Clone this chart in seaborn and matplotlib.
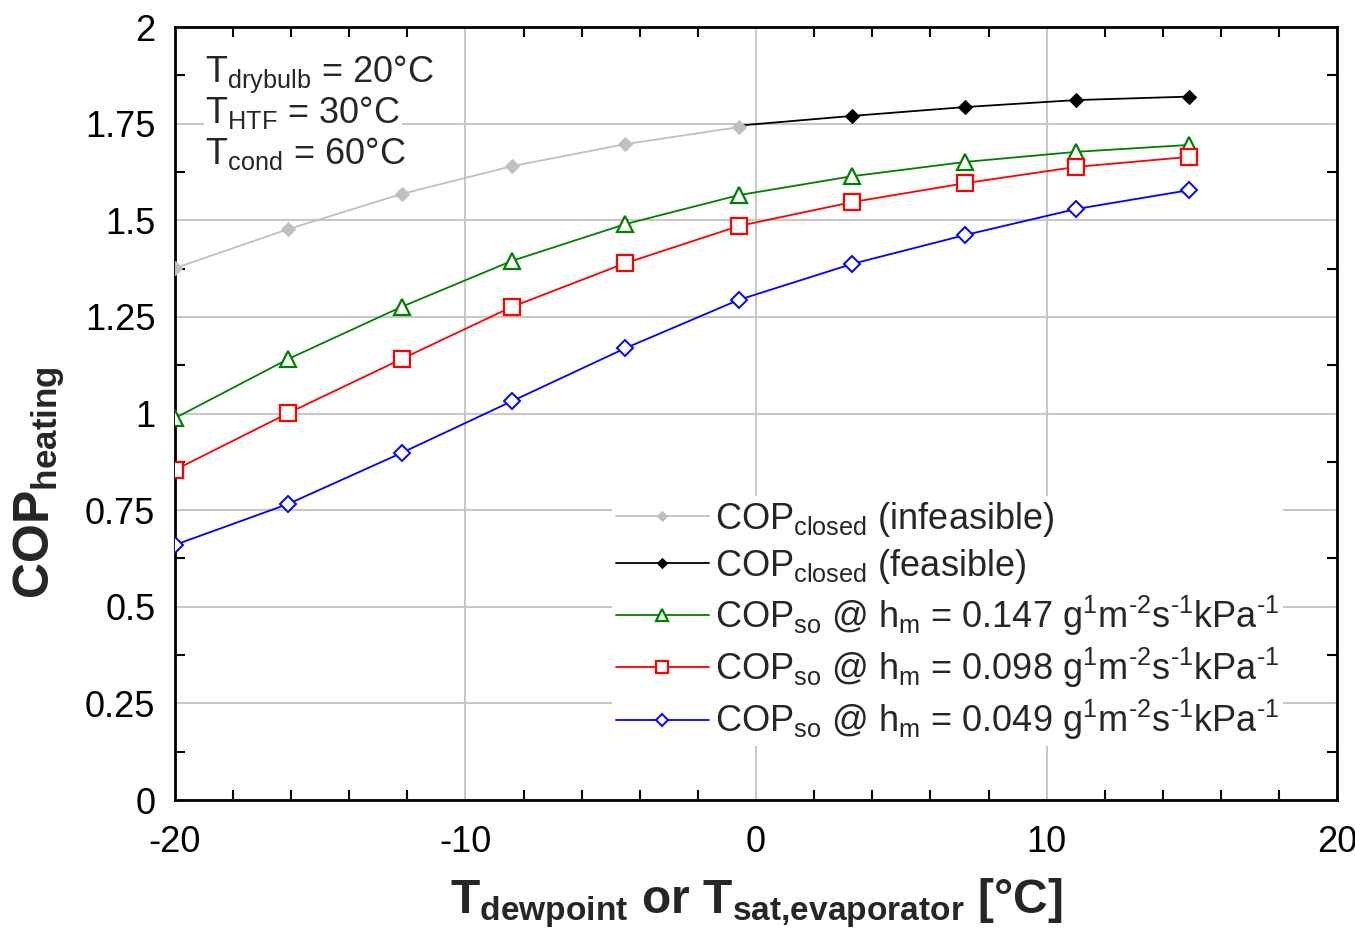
import matplotlib
matplotlib.use("Agg")
import matplotlib.pyplot as plt
from matplotlib.ticker import MultipleLocator
import seaborn as sns
import numpy as np

# ---- data ----
t_evap = [-20.0, -16.1, -12.2, -8.4, -4.5, -0.6, 3.3, 7.2, 11.0, 14.9]
cop_infeasible_x = [-20.0, -16.1, -12.2, -8.4, -4.5, -0.6]
cop_infeasible = [1.376, 1.477, 1.568, 1.640, 1.697, 1.741]
cop_feasible_x = [-0.6, 3.3, 7.2, 11.0, 14.9]
cop_feasible = [1.745, 1.770, 1.793, 1.811, 1.820]
cop_so_147 = [0.988, 1.141, 1.276, 1.395, 1.490, 1.565, 1.614, 1.651, 1.677, 1.695]
cop_so_098 = [0.854, 1.001, 1.141, 1.276, 1.389, 1.485, 1.547, 1.596, 1.638, 1.664]
cop_so_049 = [0.660, 0.766, 0.898, 1.032, 1.169, 1.294, 1.387, 1.462, 1.529, 1.578]

x_ticks = [-20, -10, 0, 10, 20]
y_ticks = [0, 0.25, 0.5, 0.75, 1, 1.25, 1.5, 1.75, 2]
y_ticklabels = ["0", "0.25", "0.5", "0.75", "1", "1.25", "1.5", "1.75", "2"]

units = r"g$^{\text{1}}$m$^{\text{-2}}$s$^{\text{-1}}$kPa$^{\text{-1}}$"
labels = [
    r"COP$_{\rm closed}$ (infeasible)",
    r"COP$_{\rm closed}$ (feasible)",
    r"COP$_{\rm so}$ @ h$_{\rm m}$ = 0.147 " + units,
    r"COP$_{\rm so}$ @ h$_{\rm m}$ = 0.098 " + units,
    r"COP$_{\rm so}$ @ h$_{\rm m}$ = 0.049 " + units,
]
notes = [r"T$_{\rm drybulb}$ = 20°C", r"T$_{\rm HTF}$ = 30°C", r"T$_{\rm cond}$ = 60°C"]

sns.set_theme(style="white")
plt.rcParams["font.family"] = ["Liberation Sans", "DejaVu Sans"]
plt.rcParams["mathtext.fontset"] = "custom"
plt.rcParams["mathtext.rm"] = "Liberation Sans"
plt.rcParams["mathtext.it"] = "Liberation Sans:italic"
plt.rcParams["mathtext.bf"] = "Liberation Sans:bold"
plt.rcParams["axes.unicode_minus"] = False

fig = plt.figure(figsize=(13.55, 9.32), dpi=100)
ax = fig.add_axes([0.129, 0.1416, 0.858, 0.8294])

lw = 1.3
sns.lineplot(x=cop_infeasible_x, y=cop_infeasible, ax=ax, color="#c0c0c0", lw=lw,
             marker="D", markersize=7, markerfacecolor="#c0c0c0", markeredgecolor="#c0c0c0",
             label=labels[0], sort=False, zorder=4)
sns.lineplot(x=cop_feasible_x, y=cop_feasible, ax=ax, color="black", lw=lw,
             marker="D", markersize=7, markerfacecolor="black", markeredgecolor="black",
             markevery=list(range(1, len(cop_feasible_x))),
             label=labels[1], sort=False, zorder=3)
sns.lineplot(x=t_evap, y=cop_so_147, ax=ax, color="#008000", lw=lw,
             marker="^", markersize=11, markerfacecolor="white", markeredgecolor="#008000",
             markeredgewidth=1.6, label=labels[2], sort=False, zorder=3)
sns.lineplot(x=t_evap, y=cop_so_098, ax=ax, color="#ff0000", lw=lw,
             marker="s", markersize=12, markerfacecolor="white", markeredgecolor="#ff0000",
             markeredgewidth=1.6, label=labels[3], sort=False, zorder=3)
sns.lineplot(x=t_evap, y=cop_so_049, ax=ax, color="#0000ff", lw=lw,
             marker="D", markersize=8, markerfacecolor="white", markeredgecolor="#0000ff",
             markeredgewidth=1.4, label=labels[4], sort=False, zorder=3)

ax.set_xlim(-20, 20)
ax.set_ylim(0, 2)
ax.set_xticks(x_ticks)
ax.set_yticks(y_ticks)
ax.set_yticklabels(y_ticklabels)
ax.xaxis.set_minor_locator(MultipleLocator(2))
ax.yaxis.set_minor_locator(MultipleLocator(0.125))
ax.grid(True, which="major", color="#c8c8c8", lw=1.5)
ax.set_axisbelow(True)
ax.tick_params(which="major", length=0, labelsize=26, colors="black", pad=14)
ax.tick_params(axis="x", which="major", pad=18)
ax.tick_params(which="minor", direction="in", length=7, width=1.5, color="black",
               top=True, right=True, bottom=True, left=True)
for s in ax.spines.values():
    s.set_color("black")
    s.set_linewidth(2)

ax.set_xlabel(r"$\mathbf{T_{dewpoint}}$ or $\mathbf{T_{sat{,}evaporator}}$ [°C]",
              fontsize=34.5, fontweight="bold", labelpad=12)
ax.set_ylabel(r"$\mathbf{COP_{heating}}$", fontsize=36, fontweight="bold")
ax.yaxis.set_label_coords(-0.093, 0.41)

for i, note in enumerate(notes):
    ax.text(0.026, 0.929 - i * 0.0533, note, transform=ax.transAxes,
            ha="left", va="baseline", fontsize=26,
            bbox=dict(facecolor="white", edgecolor="none", pad=1), zorder=5)

leg = ax.legend(loc="center left", bbox_to_anchor=(0.376, 0.2315), fontsize=26,
                frameon=True, framealpha=1, facecolor="white", edgecolor="none",
                handlelength=2.6, handletextpad=0.15, labelspacing=0.22,
                borderpad=0.1, borderaxespad=0, markerscale=0.75)
leg.get_frame().set_linewidth(0)

fig.savefig("out.png", dpi=100)
